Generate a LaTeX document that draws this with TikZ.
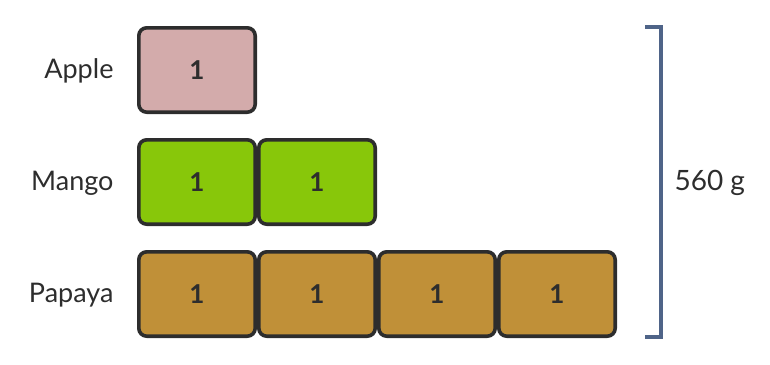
\documentclass[tikz,border=0pt]{standalone}
\usepackage{fontspec}
\setmainfont{Lato}
\definecolor{applec}{HTML}{D3ABAB}
\definecolor{mangoc}{HTML}{88C70A}
\definecolor{papayac}{HTML}{C09038}
\definecolor{edgec}{HTML}{2D2D2D}
\definecolor{bracec}{HTML}{4F6488}
\definecolor{textc}{HTML}{2D2D2D}
\begin{document}
\begin{tikzpicture}[x=1pt,y=-1pt,
  unitbox/.style={draw=edgec,line width=3.6pt,rounded corners=8pt,minimum width=116.4pt,minimum height=84.4pt,inner sep=0pt,font=\fontsize{26}{26}\selectfont\bfseries,text=textc},
  rowlabel/.style={anchor=east,font=\fontsize{27}{27}\selectfont,text=textc}]
\useasboundingbox (0,0) rectangle (770,364);
\node[rowlabel] (la) at (117,71) {Apple};
\node[rowlabel] (lm) at (117,183) {Mango};
\node[rowlabel] (lp) at (117,295) {Papaya};
\node[unitbox,fill=applec] (a1) at (197,70) {1};
\node[unitbox,fill=mangoc] (m1) at (197,182) {1};
\node[unitbox,fill=mangoc] (m2) at (317,182) {1};
\node[unitbox,fill=papayac] (p1) at (197,294) {1};
\node[unitbox,fill=papayac] (p2) at (317,294) {1};
\node[unitbox,fill=papayac] (p3) at (437,294) {1};
\node[unitbox,fill=papayac] (p4) at (557,294) {1};
\coordinate (bt) at (645,27);
\coordinate (bb) at (645,337);
\draw[bracec,line width=3.4pt] (bt) -- ++(16,0) |- (bb);
\node[anchor=west,font=\fontsize{28}{28}\selectfont,text=textc] (w) at (671,183) {560 g};
\end{tikzpicture}
\end{document}
